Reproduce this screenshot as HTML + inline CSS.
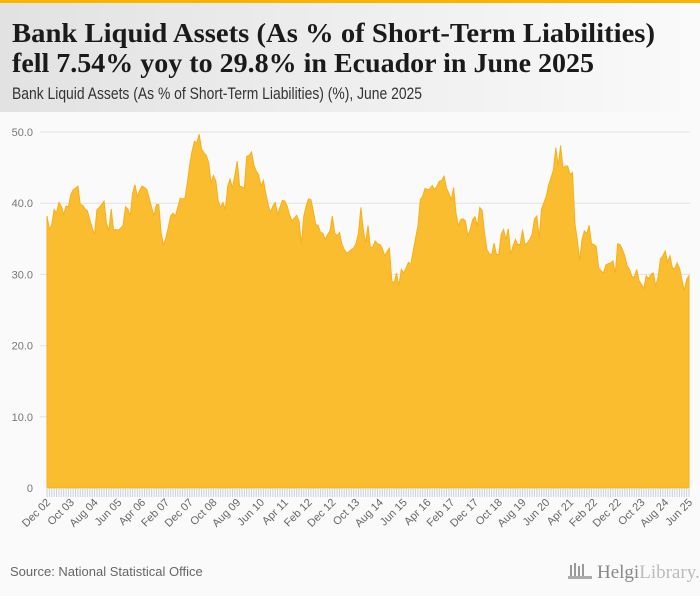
<!DOCTYPE html>
<html><head><meta charset="utf-8">
<style>
html,body{margin:0;padding:0;background:#fafafa;}
#wrap{position:relative;width:700px;height:596px;overflow:hidden;background:#fafafa;font-family:"Liberation Sans",sans-serif;}
</style></head>
<body>
<div id="wrap">
<svg id="svg" width="700" height="596" xmlns="http://www.w3.org/2000/svg">
<defs>
<linearGradient id="hg" x1="0" x2="1" y1="0" y2="0">
<stop offset="0" stop-color="#e2e2e2"/><stop offset="1" stop-color="#fafafa"/>
</linearGradient>
</defs>
<rect x="0" y="0" width="700" height="112" fill="url(#hg)"/>
<rect x="0" y="0" width="700" height="3" fill="#f7b500"/>
<text x="12" y="42" font-family="Liberation Serif, serif" font-weight="bold" font-size="27" fill="#1a1a1a" textLength="643" lengthAdjust="spacingAndGlyphs">Bank Liquid Assets (As % of Short-Term Liabilities)</text>
<text x="12" y="72" font-family="Liberation Serif, serif" font-weight="bold" font-size="27" fill="#1a1a1a" textLength="582" lengthAdjust="spacingAndGlyphs">fell 7.54% yoy to 29.8% in Ecuador in June 2025</text>
<text x="12" y="99" font-size="17" fill="#333" textLength="410" lengthAdjust="spacingAndGlyphs">Bank Liquid Assets (As % of Short-Term Liabilities) (%), June 2025</text>
<g id="grid"></g>
<g id="series"></g>
<g id="xaxis"></g>
<text x="10" y="576" font-size="13" fill="#666">Source: National Statistical Office</text>
<g>
<rect x="570" y="565" width="2" height="13" fill="#999"/><rect x="574" y="563" width="2" height="15" fill="#999"/><rect x="578" y="566" width="2" height="12" fill="#999"/><rect x="582" y="564" width="2" height="14" fill="#999"/>
<rect x="568" y="576" width="24" height="3" fill="#aaa"/>
<text x="597" y="578" font-family="Liberation Serif, serif" font-size="19" fill="#888">Helgi<tspan fill="#bbb">Library.</tspan></text>
</g>
</svg>
</div>
<script>
const values = [38.2,36.3,37.0,39.1,38.6,40.1,39.6,38.4,39.6,39.5,41.2,41.9,42.1,42.4,39.8,39.7,39.2,38.9,37.7,36.5,
35.6,39.1,39.4,39.8,40.3,37.2,36.1,39.2,36.2,36.3,36.2,36.5,36.9,39.5,39.2,38.2,41.4,42.6,40.9,41.8,
42.4,42.2,41.9,40.7,39.4,38.2,39.8,39.8,35.8,34.1,35.1,36.6,38.2,38.6,38.2,39.4,40.7,40.6,40.7,42.8,
45.4,47.3,48.7,48.4,49.7,47.6,47.1,46.7,45.7,42.8,43.9,43.1,40.3,39.4,40.1,39.1,42.4,43.4,42.1,43.9,
45.9,42.4,42.3,42.1,46.6,46.7,47.2,45.4,44.5,44.0,42.4,43.2,41.4,39.8,38.7,39.6,40.1,38.4,39.4,40.4,
40.3,39.6,38.4,37.5,37.9,38.3,37.5,34.2,38.2,39.6,40.6,40.5,38.9,37.0,36.9,35.9,35.8,34.9,35.6,36.1,
38.2,35.8,35.4,35.9,34.3,33.5,33.0,33.2,33.5,33.7,34.4,35.8,39.4,36.3,34.4,36.9,33.8,33.8,34.7,34.3,
34.2,33.7,32.6,33.2,33.7,29.1,28.8,30.2,28.4,30.7,30.2,30.9,31.7,31.4,33.3,35.1,36.8,40.5,41.0,42.1,
41.9,42.0,42.5,41.9,42.4,43.1,43.2,43.8,42.1,41.4,40.5,42.2,38.6,36.8,37.7,37.8,37.5,35.4,36.3,37.7,
38.1,36.8,39.4,39.0,35.8,33.5,32.9,32.7,34.4,32.8,32.8,35.6,36.3,34.9,36.4,32.8,34.0,34.9,34.2,34.2,
36.3,34.2,34.4,34.9,35.6,37.8,38.2,35.1,39.2,40.1,41.0,42.6,43.6,44.7,47.8,45.2,48.1,44.9,45.2,45.2,
44.0,44.3,37.2,34.9,31.9,34.9,36.1,35.7,36.9,34.3,34.2,33.9,30.9,30.5,30.2,31.3,31.5,31.6,31.9,30.2,
34.3,34.2,33.5,32.6,31.2,30.7,29.7,29.6,30.7,29.1,28.6,28.0,29.8,29.4,30.0,30.2,28.4,29.6,32.2,32.6,
33.3,31.7,32.6,30.9,30.8,31.6,30.9,29.3,27.7,29.3,29.8];
const yTicks = [0,10,20,30,40,50];
const yTickLabels = ["0","10.0","20.0","30.0","40.0","50.0"];
const xTickLabels = ["Dec 02","Oct 03","Aug 04","Jun 05","Apr 06","Feb 07","Dec 07","Oct 08","Aug 09","Jun 10","Apr 11","Feb 12","Dec 12","Oct 13","Aug 14","Jun 15","Apr 16","Feb 17","Dec 17","Oct 18","Aug 19","Jun 20","Apr 21","Feb 22","Dec 22","Oct 23","Aug 24","Jun 25"];
const labelEvery = 10;

const NS="http://www.w3.org/2000/svg";
const X0=47, X1=689, Y0=488, Y50=132;
const n=values.length;
function xScale(i){return X0+(X1-X0)*i/(n-1);}
function yScale(v){return Y0-(Y0-Y50)*v/50;}
function mk(tag,attrs,parent){const e=document.createElementNS(NS,tag);for(const k in attrs)e.setAttribute(k,attrs[k]);parent.appendChild(e);return e;}

const grid=document.getElementById('grid');
yTicks.forEach((t,i)=>{
  if(t>0){const l=mk('line',{x1:40,x2:690,y1:yScale(t),y2:yScale(t),stroke:'#e2e2e2','stroke-width':1},grid);
  
  }
  const tx=mk('text',{x:33,y:yScale(t)+4,'text-anchor':'end','font-size':11,fill:'#777'},grid);
  tx.textContent=yTickLabels[i];
  
  
});

const ser=document.getElementById('series');
let d='M'+xScale(0)+','+Y0;
values.forEach((v,i)=>{d+=' L'+xScale(i).toFixed(2)+','+yScale(v).toFixed(2);});
d+=' L'+xScale(n-1)+','+Y0+' Z';
const area=mk('path',{d:d,fill:'#fbbd30',stroke:'#f5b01a','stroke-width':1},ser);



const xa=document.getElementById('xaxis');
for(let i=0;i<n;i++){
  const t=mk('line',{x1:xScale(i),x2:xScale(i),y1:489,y2:497,stroke:'#c5d2e8','stroke-width':1},xa);
  
  
}
xTickLabels.forEach((lab,j)=>{
  const x=xScale(j*labelEvery);
  const tx=mk('text',{x:x+4,y:503,'text-anchor':'end','font-size':11,fill:'#666',transform:'rotate(-45 '+(x+4)+' 503)'},xa);
  tx.textContent=lab;
  
  
});
</script>
</body></html>
